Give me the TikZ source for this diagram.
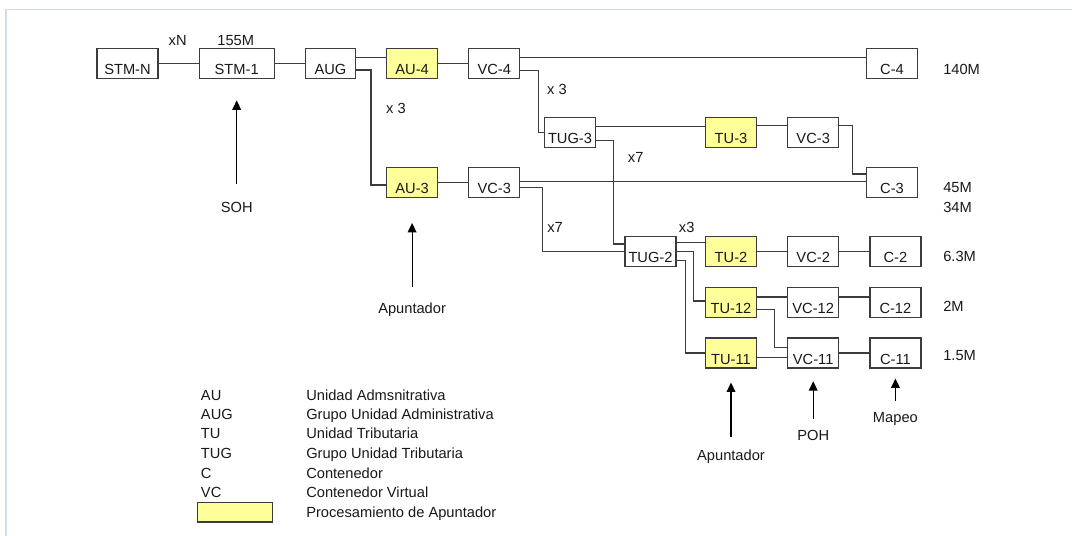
\documentclass[tikz,border=0pt]{standalone}
\usepackage{fontspec}
\setmainfont{Liberation Sans}
\usetikzlibrary{arrows.meta, positioning}
\definecolor{ptrfill}{HTML}{FFFF99}
\definecolor{edge}{HTML}{3C3C3C}
\definecolor{shotframe}{HTML}{D3DBE4}

\begin{document}
\begin{tikzpicture}[x=0.75pt, y=-0.75pt, node distance=22.5pt, >={Triangle[length=7pt, width=6.5pt]},
		every node/.style={font=\fontsize{11}{13}\selectfont, text=black!90},
		unit/.style={rectangle, draw=edge, line width=0.9pt, fill=white, minimum width=38.25pt, inner xsep=2pt, inner ysep=0pt, text height=19.7pt, text depth=2.8pt},
		pointer/.style={unit, fill=ptrfill},
		link/.style={draw=edge, line width=0.9pt},
		feed/.style={->, draw=black, line width=0.9pt},
		lbl/.style={inner sep=0pt, text height=7.9pt, text depth=0pt},
		rate/.style={lbl, anchor=west}]
		
		\fill[white] (0,0) rectangle (1072,536);
		\useasboundingbox (0,0) rectangle (1072,536);
		\draw[shotframe, line width=1.2pt] (5.7,536) -- (5.7,9.3) -- (1072,9.3);
		
		% main chain
		\node[unit, minimum width=45.75pt] (stmn) at (127.5,63.5) {STM-N};
		\node[unit, minimum width=56.25pt, right=30pt of stmn] (stm1) {STM-1};
		\node[unit, minimum width=37.5pt, right=of stm1] (aug) {AUG};
		\node[pointer, right=of aug] (au4) {AU-4};
		\node[unit, right=of au4] (vc4) {VC-4};
		\node[unit] (c4) at (892,63.5) {C-4};
		
		\node[pointer, below=66pt of au4] (au3) {AU-3};
		\node[unit, right=of au3] (vc3) {VC-3};
		\node[unit, below=66pt of c4] (c3) {C-3};
		
		\node[unit] (tug3) at (570,132.7) {TUG-3};
		\node[pointer] (tu3) at (731,132.7) {TU-3};
		\node[unit, right=of tu3] (vc3b) {VC-3};
		
		\node[unit] (tug2) at (650.5,251.2) {TUG-2};
		\node[pointer] (tu2) at (731,251.2) {TU-2};
		\node[unit, right=of tu2] (vc2) {VC-2};
		\node[unit, right=of vc2] (c2) {C-2};
		\node[pointer, below=15pt of tu2] (tu12) {TU-12};
		\node[unit, right=of tu12] (vc12) {VC-12};
		\node[unit, right=of vc12] (c12) {C-12};
		\node[pointer, below=14.5pt of tu12] (tu11) {TU-11};
		\node[unit, right=of tu11] (vc11) {VC-11};
		\node[unit, right=of vc11] (c11) {C-11};
		
		% connectors
		\draw[link] (stmn) -- (stm1);
		\draw[link] (stm1) -- (aug);
		\draw[link] ([yshift=4.35pt]aug.east) -- ([yshift=4.35pt]au4.west);
		\draw[link] ([yshift=-4.9pt]aug.east) -- ++(15,0) |- ([yshift=-1.7pt]au3.west);
		\draw[link] (au4) -- (vc4);
		\draw[link] ([yshift=4.35pt]vc4.east) -- ([yshift=4.35pt]c4.west);
		\draw[link] ([yshift=-5.4pt]vc4.east) -- ++(18,0) |- (tug3.west);
		\draw[link] ([yshift=4.5pt]tug3.east) -- ([yshift=4.5pt]tu3.west);
		\draw[link] ([yshift=5.2pt]tu3.east) -- ([yshift=5.2pt]vc3b.west);
		\draw[link] ([yshift=5.2pt]vc3b.east) -- ++(13,0) |- ([yshift=6.5pt]c3.west);
		\draw[link] (au3) -- (vc3);
		\draw[link] ([yshift=0.75pt]vc3.east) -- ([yshift=0.75pt]c3.west);
		\draw[link] ([yshift=-6pt]tug3.east) -- ++(17,0) |- ([yshift=5.4pt]tug2.west);
		\draw[link] ([yshift=-3.5pt]vc3.east) -- ++(22,0) |- (tug2.west);
		\draw[link] ([yshift=6.75pt]tug2.east) -- ([yshift=6.75pt]tu2.west);
		\draw[link] (tug2.east) -- ++(17,0) |- ([yshift=1.1pt]tu12.west);
		\draw[link] ([yshift=-6.75pt]tug2.east) -- ++(9,0) |- (tu11.west);
		\draw[link] (tu2) -- (vc2);
		\draw[link] (vc2) -- (c2);
		\draw[link] ([yshift=4.1pt]tu12.east) -- ([yshift=4.1pt]vc12.west);
		\draw[link] ([yshift=4.1pt]vc12.east) -- ([yshift=4.1pt]c12.west);
		\draw[link] ([yshift=-5.6pt]tu12.east) -- ++(17,0) |- ([yshift=4.2pt]vc11.west);
		\draw[link] ([yshift=-3.5pt]tu11.east) -- ([yshift=-3.5pt]vc11.west);
		\draw[link] (vc11) -- (c11);
		
		% multiplicities and rates
		\node[lbl] (xn) at (177.7,40) {xN};
		\node[lbl] (r155) at (235.7,40) {155M};
		\node[lbl] (x3a) at (396,108.7) {x 3};
		\node[lbl] (x3b) at (557,89) {x 3};
		\node[lbl] (x7a) at (635.7,157.7) {x7};
		\node[lbl] (x7b) at (555,227.3) {x7};
		\node[lbl] (x3c) at (686.7,227.3) {x3};
		\node[rate] (r140) at (943,69.3) {140M};
		\node[rate] (r45) at (943,187.7) {45M};
		\node[rate] (r34) at (943,207.3) {34M};
		\node[rate] (r6) at (943,256.7) {6.3M};
		\node[rate] (r2) at (943,306) {2M};
		\node[rate] (r15) at (943,355) {1.5M};
		
		% overheads
		\node[lbl, below=92pt of stm1] (soh) {SOH};
		\node[lbl, below=78pt of au3] (apt1) {Apuntador};
		\node[lbl, below=61pt of tu11] (apt2) {Apuntador};
		\node[lbl, below=46pt of vc11] (poh) {POH};
		\node[lbl, below=32.5pt of c11] (map) {Mapeo};
		\draw[feed, shorten <=13pt, shorten >=16pt] (soh.north) -- (soh.north |- stm1.south);
		\draw[feed, shorten <=11.5pt, shorten >=18.5pt] (apt1.north) -- (apt1.north |- au3.south);
		\draw[feed, shorten <=10pt, shorten >=10.5pt] (apt2.north) -- (apt2.north |- tu11.south);
		\draw[feed, shorten <=8pt, shorten >=9.5pt] (poh.north) -- (poh.north |- vc11.south);
		\draw[feed, shorten <=8pt, shorten >=7.5pt] (map.north) -- (map.north |- c11.south);
		
		% legend
		\node[rate] (kau) at (200.7,395) {AU};
		\node[rate] (dau) at (306,395) {Unidad Admsnitrativa};
		\node[rate] (kaug) at (200.7,414.3) {AUG};
		\node[rate] (daug) at (306,414.3) {Grupo Unidad Administrativa};
		\node[rate] (ktu) at (200.7,433.3) {TU};
		\node[rate] (dtu) at (306,433.3) {Unidad Tributaria};
		\node[rate] (ktug) at (200.7,453.3) {TUG};
		\node[rate] (dtug) at (306,453.3) {Grupo Unidad Tributaria};
		\node[rate] (kc) at (200.7,473.3) {C};
		\node[rate] (dc) at (306,473.3) {Contenedor};
		\node[rate] (kvc) at (200.7,492.7) {VC};
		\node[rate] (dvc) at (306,492.7) {Contenedor Virtual};
		\node[draw=edge, line width=0.9pt, fill=ptrfill, minimum width=56.25pt, minimum height=14.5pt, inner sep=0pt] (kptr) at (235,512.4) {};
		\node[rate] (dptr) at (306,512.7) {Procesamiento de Apuntador};
	\end{tikzpicture}
\end{document}
